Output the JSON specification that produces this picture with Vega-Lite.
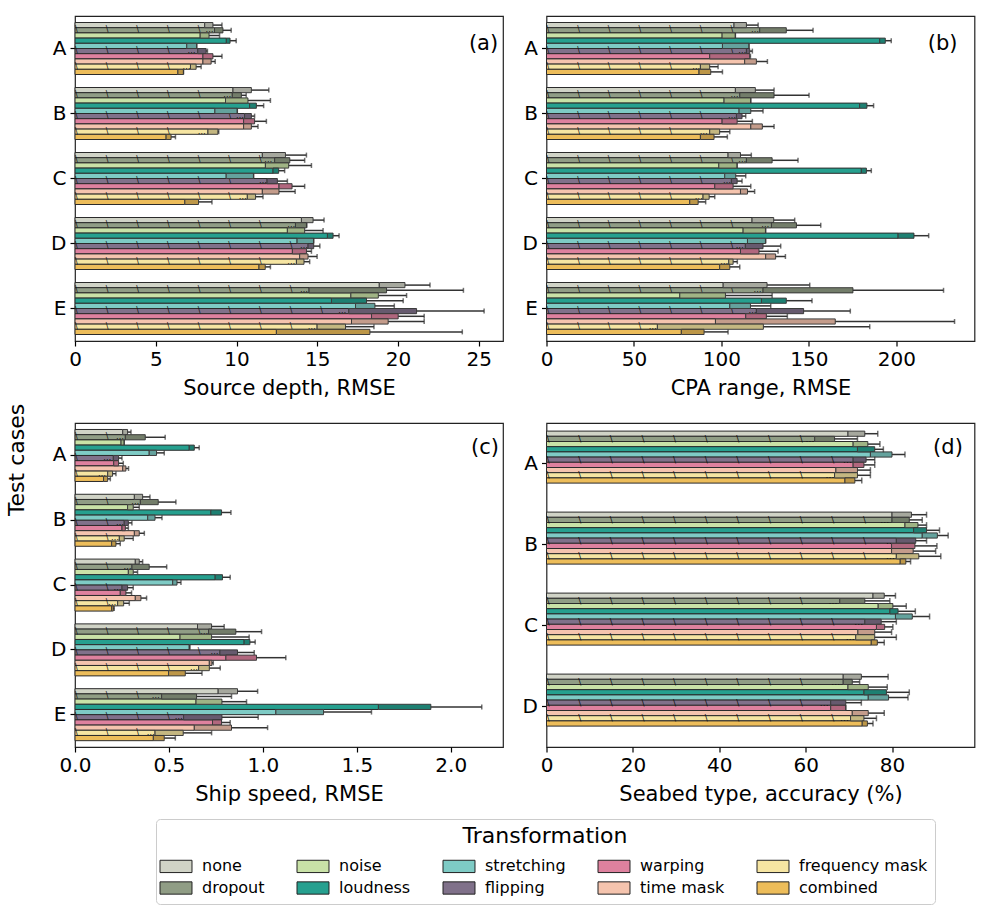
{
"$schema": "https://vega.github.io/schema/vega-lite/v6.json",
"background": "white",
"padding": {"left": 5, "top": 15, "right": 5, "bottom": 5},
"title": {"text": "Test cases", "orient": "left", "anchor": "middle", "fontSize": 22, "fontWeight": "normal", "font": "DejaVu Sans", "offset": 21},
"data": {"name": "d"},
"datasets": {"d": [
{"p":"a","c":"A","t":"none","v":8.03,"w":8.54,"h":9.1},
{"p":"a","c":"A","t":"dropout","v":8.64,"w":9.16,"h":9.67},
{"p":"a","c":"A","t":"noise","v":7.75,"w":8.3,"h":8.95},
{"p":"a","c":"A","t":"loudness","v":9.37,"w":9.6,"h":9.98},
{"p":"a","c":"A","t":"stretching","v":6.92,"w":7.54,"h":7.54},
{"p":"a","c":"A","t":"flipping","v":7.6,"w":8.12,"h":8.2},
{"p":"a","c":"A","t":"warping","v":7.92,"w":8.54,"h":9.1},
{"p":"a","c":"A","t":"time mask","v":7.92,"w":8.43,"h":8.68},
{"p":"a","c":"A","t":"frequency mask","v":7.15,"w":7.5,"h":7.81},
{"p":"a","c":"A","t":"combined","v":6.37,"w":6.72,"h":6.72},
{"p":"a","c":"B","t":"none","v":9.78,"w":10.92,"h":12.0},
{"p":"a","c":"B","t":"dropout","v":9.74,"w":10.3,"h":10.6},
{"p":"a","c":"B","t":"noise","v":9.32,"w":10.71,"h":12.1},
{"p":"a","c":"B","t":"loudness","v":10.81,"w":11.23,"h":11.68},
{"p":"a","c":"B","t":"stretching","v":8.66,"w":10.05,"h":10.05},
{"p":"a","c":"B","t":"flipping","v":10.5,"w":10.92,"h":11.12},
{"p":"a","c":"B","t":"warping","v":10.44,"w":11.12,"h":11.85},
{"p":"a","c":"B","t":"time mask","v":10.44,"w":10.92,"h":11.33},
{"p":"a","c":"B","t":"frequency mask","v":8.23,"w":8.85,"h":8.9},
{"p":"a","c":"B","t":"combined","v":5.64,"w":5.95,"h":6.22},
{"p":"a","c":"C","t":"none","v":11.6,"w":13.03,"h":14.33},
{"p":"a","c":"C","t":"dropout","v":12.36,"w":13.3,"h":14.22},
{"p":"a","c":"C","t":"noise","v":11.79,"w":13.23,"h":14.64},
{"p":"a","c":"C","t":"loudness","v":12.26,"w":12.61,"h":12.98},
{"p":"a","c":"C","t":"stretching","v":9.36,"w":11.06,"h":11.06},
{"p":"a","c":"C","t":"flipping","v":11.89,"w":12.53,"h":13.15},
{"p":"a","c":"C","t":"warping","v":12.63,"w":13.44,"h":14.22},
{"p":"a","c":"C","t":"time mask","v":11.6,"w":12.63,"h":13.63},
{"p":"a","c":"C","t":"frequency mask","v":10.67,"w":11.18,"h":11.64},
{"p":"a","c":"C","t":"combined","v":6.8,"w":7.65,"h":8.48},
{"p":"a","c":"D","t":"none","v":14.02,"w":14.74,"h":15.42},
{"p":"a","c":"D","t":"dropout","v":13.65,"w":14.33,"h":14.36},
{"p":"a","c":"D","t":"noise","v":13.15,"w":14.22,"h":15.36},
{"p":"a","c":"D","t":"loudness","v":15.63,"w":15.98,"h":16.35},
{"p":"a","c":"D","t":"stretching","v":13.75,"w":14.78,"h":14.78},
{"p":"a","c":"D","t":"flipping","v":14.43,"w":14.78,"h":15.16},
{"p":"a","c":"D","t":"warping","v":13.46,"w":14.33,"h":14.64},
{"p":"a","c":"D","t":"time mask","v":13.91,"w":14.43,"h":14.99},
{"p":"a","c":"D","t":"frequency mask","v":13.71,"w":14.18,"h":14.53},
{"p":"a","c":"D","t":"combined","v":11.39,"w":11.78,"h":12.1},
{"p":"a","c":"E","t":"none","v":18.84,"w":20.43,"h":21.98},
{"p":"a","c":"E","t":"dropout","v":14.49,"w":19.29,"h":24.05},
{"p":"a","c":"E","t":"noise","v":17.08,"w":18.78,"h":20.53},
{"p":"a","c":"E","t":"loudness","v":15.88,"w":18.05,"h":20.32},
{"p":"a","c":"E","t":"stretching","v":17.37,"w":18.57,"h":19.77},
{"p":"a","c":"E","t":"flipping","v":16.95,"w":21.15,"h":25.33},
{"p":"a","c":"E","t":"warping","v":18.36,"w":20.01,"h":21.62},
{"p":"a","c":"E","t":"time mask","v":17.12,"w":19.39,"h":21.62},
{"p":"a","c":"E","t":"frequency mask","v":14.99,"w":16.75,"h":18.51},
{"p":"a","c":"E","t":"combined","v":12.47,"w":18.26,"h":23.98},
{"p":"b","c":"A","t":"none","v":107.2,"w":114.3,"h":121},
{"p":"b","c":"A","t":"dropout","v":121.9,"w":137.1,"h":152.4},
{"p":"b","c":"A","t":"noise","v":100.4,"w":108,"h":108},
{"p":"b","c":"A","t":"loudness","v":190.5,"w":193.7,"h":197.1},
{"p":"b","c":"A","t":"stretching","v":100.6,"w":115.8,"h":115.8},
{"p":"b","c":"A","t":"flipping","v":114.3,"w":116.2,"h":117.7},
{"p":"b","c":"A","t":"warping","v":93.3,"w":116.2,"h":116.6},
{"p":"b","c":"A","t":"time mask","v":113.3,"w":120,"h":126.3},
{"p":"b","c":"A","t":"frequency mask","v":88,"w":93.3,"h":98.1},
{"p":"b","c":"A","t":"combined","v":87.2,"w":93.9,"h":100.6},
{"p":"b","c":"B","t":"none","v":108,"w":119.4,"h":130.1},
{"p":"b","c":"B","t":"dropout","v":110.5,"w":130.1,"h":150.1},
{"p":"b","c":"B","t":"noise","v":101.5,"w":116.8,"h":116.8},
{"p":"b","c":"B","t":"loudness","v":179,"w":183.2,"h":187},
{"p":"b","c":"B","t":"stretching","v":110.1,"w":116.8,"h":123.8},
{"p":"b","c":"B","t":"flipping","v":108.6,"w":111.8,"h":113.9},
{"p":"b","c":"B","t":"warping","v":100.4,"w":109,"h":117.7},
{"p":"b","c":"B","t":"time mask","v":116.8,"w":123.4,"h":130.1},
{"p":"b","c":"B","t":"frequency mask","v":93.3,"w":99,"h":104.8},
{"p":"b","c":"B","t":"combined","v":88,"w":95.8,"h":103.4},
{"p":"b","c":"C","t":"none","v":103.8,"w":110.9,"h":117.1},
{"p":"b","c":"C","t":"dropout","v":114.3,"w":129,"h":143.8},
{"p":"b","c":"C","t":"noise","v":98.5,"w":109,"h":109},
{"p":"b","c":"C","t":"loudness","v":180,"w":182.9,"h":185.7},
{"p":"b","c":"C","t":"stretching","v":101.9,"w":108.2,"h":113.9},
{"p":"b","c":"C","t":"flipping","v":105.7,"w":109,"h":111.8},
{"p":"b","c":"C","t":"warping","v":96.2,"w":106.7,"h":116.8},
{"p":"b","c":"C","t":"time mask","v":110.9,"w":114.9,"h":119},
{"p":"b","c":"C","t":"frequency mask","v":89.5,"w":93,"h":96.2},
{"p":"b","c":"C","t":"combined","v":81.9,"w":86.7,"h":91},
{"p":"b","c":"D","t":"none","v":117.5,"w":129.9,"h":141.9},
{"p":"b","c":"D","t":"dropout","v":128.6,"w":142.9,"h":156.8},
{"p":"b","c":"D","t":"noise","v":112.4,"w":125.3,"h":125.3},
{"p":"b","c":"D","t":"loudness","v":201,"w":210.1,"h":218.5},
{"p":"b","c":"D","t":"stretching","v":114.9,"w":125.3,"h":125.3},
{"p":"b","c":"D","t":"flipping","v":113.7,"w":123.8,"h":133.9},
{"p":"b","c":"D","t":"warping","v":110.9,"w":121.5,"h":132.4},
{"p":"b","c":"D","t":"time mask","v":125.3,"w":131,"h":136.6},
{"p":"b","c":"D","t":"frequency mask","v":104.2,"w":106.7,"h":109.1},
{"p":"b","c":"D","t":"combined","v":99,"w":104.8,"h":110.5},
{"p":"b","c":"E","t":"none","v":101,"w":126.1,"h":150.5},
{"p":"b","c":"E","t":"dropout","v":123.8,"w":175.2,"h":227},
{"p":"b","c":"E","t":"noise","v":76.2,"w":102.3,"h":129},
{"p":"b","c":"E","t":"loudness","v":122.9,"w":137.1,"h":151.8},
{"p":"b","c":"E","t":"stretching","v":104.8,"w":116.6,"h":128.2},
{"p":"b","c":"E","t":"flipping","v":120,"w":147,"h":173.7},
{"p":"b","c":"E","t":"warping","v":113.9,"w":125.7,"h":137.7},
{"p":"b","c":"E","t":"time mask","v":96.6,"w":165.1,"h":233.3},
{"p":"b","c":"E","t":"frequency mask","v":63.4,"w":124,"h":184.8},
{"p":"b","c":"E","t":"combined","v":77.1,"w":90.1,"h":103.8},
{"p":"c","c":"A","t":"none","v":0.254,"w":0.28,"h":0.298},
{"p":"c","c":"A","t":"dropout","v":0.268,"w":0.374,"h":0.48},
{"p":"c","c":"A","t":"noise","v":0.245,"w":0.262,"h":0.262},
{"p":"c","c":"A","t":"loudness","v":0.608,"w":0.635,"h":0.661},
{"p":"c","c":"A","t":"stretching","v":0.395,"w":0.434,"h":0.475},
{"p":"c","c":"A","t":"flipping","v":0.204,"w":0.232,"h":0.25},
{"p":"c","c":"A","t":"warping","v":0.206,"w":0.232,"h":0.257},
{"p":"c","c":"A","t":"time mask","v":0.254,"w":0.271,"h":0.285},
{"p":"c","c":"A","t":"frequency mask","v":0.174,"w":0.2,"h":0.218},
{"p":"c","c":"A","t":"combined","v":0.152,"w":0.174,"h":0.188},
{"p":"c","c":"B","t":"none","v":0.316,"w":0.36,"h":0.399},
{"p":"c","c":"B","t":"dropout","v":0.348,"w":0.443,"h":0.537},
{"p":"c","c":"B","t":"noise","v":0.28,"w":0.31,"h":0.342},
{"p":"c","c":"B","t":"loudness","v":0.723,"w":0.78,"h":0.83},
{"p":"c","c":"B","t":"stretching","v":0.387,"w":0.426,"h":0.463},
{"p":"c","c":"B","t":"flipping","v":0.262,"w":0.284,"h":0.303},
{"p":"c","c":"B","t":"warping","v":0.25,"w":0.268,"h":0.284},
{"p":"c","c":"B","t":"time mask","v":0.316,"w":0.342,"h":0.369},
{"p":"c","c":"B","t":"frequency mask","v":0.236,"w":0.262,"h":0.31},
{"p":"c","c":"B","t":"combined","v":0.195,"w":0.218,"h":0.241},
{"p":"c","c":"C","t":"none","v":0.321,"w":0.342,"h":0.36},
{"p":"c","c":"C","t":"dropout","v":0.303,"w":0.395,"h":0.488},
{"p":"c","c":"C","t":"noise","v":0.284,"w":0.31,"h":0.333},
{"p":"c","c":"C","t":"loudness","v":0.746,"w":0.785,"h":0.826},
{"p":"c","c":"C","t":"stretching","v":0.52,"w":0.543,"h":0.564},
{"p":"c","c":"C","t":"flipping","v":0.25,"w":0.28,"h":0.31},
{"p":"c","c":"C","t":"warping","v":0.241,"w":0.271,"h":0.301},
{"p":"c","c":"C","t":"time mask","v":0.321,"w":0.351,"h":0.381},
{"p":"c","c":"C","t":"frequency mask","v":0.227,"w":0.259,"h":0.289},
{"p":"c","c":"C","t":"combined","v":0.195,"w":0.204,"h":0.209},
{"p":"c","c":"D","t":"none","v":0.652,"w":0.727,"h":0.794},
{"p":"c","c":"D","t":"dropout","v":0.711,"w":0.856,"h":0.993},
{"p":"c","c":"D","t":"noise","v":0.559,"w":0.727,"h":0.927},
{"p":"c","c":"D","t":"loudness","v":0.9,"w":0.931,"h":0.959},
{"p":"c","c":"D","t":"stretching","v":0.608,"w":0.61,"h":0.612},
{"p":"c","c":"D","t":"flipping","v":0.771,"w":0.865,"h":0.954},
{"p":"c","c":"D","t":"warping","v":0.803,"w":0.966,"h":1.122},
{"p":"c","c":"D","t":"time mask","v":0.715,"w":0.729,"h":0.736},
{"p":"c","c":"D","t":"frequency mask","v":0.658,"w":0.715,"h":0.773},
{"p":"c","c":"D","t":"combined","v":0.498,"w":0.587,"h":0.676},
{"p":"c","c":"E","t":"none","v":0.762,"w":0.865,"h":0.972},
{"p":"c","c":"E","t":"dropout","v":0.461,"w":0.647,"h":0.833},
{"p":"c","c":"E","t":"noise","v":0.644,"w":0.782,"h":0.913},
{"p":"c","c":"E","t":"loudness","v":1.615,"w":1.894,"h":2.165},
{"p":"c","c":"E","t":"stretching","v":1.069,"w":1.323,"h":1.578},
{"p":"c","c":"E","t":"flipping","v":0.578,"w":0.782,"h":0.975},
{"p":"c","c":"E","t":"warping","v":0.732,"w":0.78,"h":0.826},
{"p":"c","c":"E","t":"time mask","v":0.635,"w":0.833,"h":1.025},
{"p":"c","c":"E","t":"frequency mask","v":0.426,"w":0.576,"h":0.727},
{"p":"c","c":"E","t":"combined","v":0.417,"w":0.475,"h":0.534},
{"p":"d","c":"A","t":"none","v":69.8,"w":73.7,"h":76.7},
{"p":"d","c":"A","t":"dropout","v":62.1,"w":66.7,"h":72},
{"p":"d","c":"A","t":"noise","v":71,"w":74.4,"h":77.2},
{"p":"d","c":"A","t":"loudness","v":72,"w":76,"h":78},
{"p":"d","c":"A","t":"stretching","v":75,"w":80,"h":83},
{"p":"d","c":"A","t":"flipping","v":71,"w":74,"h":76},
{"p":"d","c":"A","t":"warping","v":71,"w":73.5,"h":76},
{"p":"d","c":"A","t":"time mask","v":67,"w":72,"h":75},
{"p":"d","c":"A","t":"frequency mask","v":66.7,"w":72,"h":75},
{"p":"d","c":"A","t":"combined","v":69.1,"w":71.4,"h":73},
{"p":"d","c":"B","t":"none","v":80,"w":84.5,"h":88},
{"p":"d","c":"B","t":"dropout","v":80,"w":84,"h":87},
{"p":"d","c":"B","t":"noise","v":83,"w":86,"h":88},
{"p":"d","c":"B","t":"loudness","v":85,"w":88,"h":91},
{"p":"d","c":"B","t":"stretching","v":87,"w":90.5,"h":93},
{"p":"d","c":"B","t":"flipping","v":81,"w":85.5,"h":88},
{"p":"d","c":"B","t":"warping","v":79.9,"w":85.3,"h":90.4},
{"p":"d","c":"B","t":"time mask","v":79.9,"w":84.9,"h":90.1},
{"p":"d","c":"B","t":"frequency mask","v":81,"w":86.2,"h":91.3},
{"p":"d","c":"B","t":"combined","v":81.9,"w":83.2,"h":84.3},
{"p":"d","c":"C","t":"none","v":75.6,"w":78.2,"h":80.8},
{"p":"d","c":"C","t":"dropout","v":67.9,"w":73.7,"h":79.5},
{"p":"d","c":"C","t":"noise","v":76.8,"w":80.2,"h":83.3},
{"p":"d","c":"C","t":"loudness","v":79.5,"w":81.4,"h":85.4},
{"p":"d","c":"C","t":"stretching","v":80.8,"w":84.7,"h":88.7},
{"p":"d","c":"C","t":"flipping","v":73.7,"w":77.5,"h":81},
{"p":"d","c":"C","t":"warping","v":76.4,"w":78.3,"h":80.2},
{"p":"d","c":"C","t":"time mask","v":72.1,"w":76,"h":79.9},
{"p":"d","c":"C","t":"frequency mask","v":71.6,"w":76,"h":81},
{"p":"d","c":"C","t":"combined","v":75.2,"w":76.6,"h":78.2},
{"p":"d","c":"D","t":"none","v":68.7,"w":72.9,"h":79.1},
{"p":"d","c":"D","t":"dropout","v":68.7,"w":70.8,"h":72.5},
{"p":"d","c":"D","t":"noise","v":69.8,"w":74.5,"h":78.9},
{"p":"d","c":"D","t":"loudness","v":73.5,"w":78.7,"h":84},
{"p":"d","c":"D","t":"stretching","v":74.5,"w":79.2,"h":83.7},
{"p":"d","c":"D","t":"flipping","v":65.8,"w":69.3,"h":72.9},
{"p":"d","c":"D","t":"warping","v":65.8,"w":69.3,"h":69.3},
{"p":"d","c":"D","t":"time mask","v":70.8,"w":74.5,"h":78.2},
{"p":"d","c":"D","t":"frequency mask","v":70.4,"w":73.5,"h":76.4},
{"p":"d","c":"D","t":"combined","v":73.1,"w":74.3,"h":75.6}
]},
"vconcat": [
{"spacing": 16.5, "hconcat": [
{"width": 428, "height": 325, "layer": [
 {"transform": [{"filter": "datum.p==='a'"}],
  "encoding": {
   "y": {"field": "c", "type": "nominal", "scale": {"paddingInner": 0.2, "paddingOuter": 0.1}, "axis": {"title": null}},
   "yOffset": {"field": "t", "type": "nominal", "sort": ["none","dropout","noise","loudness","stretching","flipping","warping","time mask","frequency mask","combined"], "scale": {"paddingInner": 0, "paddingOuter": 0}},
   "color": {"field": "t", "type": "nominal", "title": "Transformation", "scale": {"domain": ["none","noise","stretching","warping","frequency mask","dropout","loudness","flipping","time mask","combined"], "range": ["#d0d3c6","#c9e2a7","#7ecbc5","#de819e","#f6e5a2","#909d85","#26a08f","#80718a","#f5c4ae","#edbd5a"]}}
  },
  "layer": [
   {"mark": {"type": "bar", "stroke": "#2b2b2b", "strokeWidth": 1}, "encoding": {"x": {"field": "v", "type": "quantitative", "scale": {"domain": [0, 26.5], "nice": false}, "axis": {"values": [0,5,10,15,20,25], "title": "Source depth, RMSE"}}}},
   {"transform": [{"filter": "datum.t==='dropout'||datum.t==='flipping'||datum.t==='frequency mask'"}], "mark": {"type": "text", "align": "left", "baseline": "middle", "fontSize": 8, "fill": "#111", "ellipsis": "", "limit": {"expr": "datum.v*16.15"}, "text": "\u00a0\u00a0\u00a0\u00a0\\\u00a0\u00a0\u00a0\u00a0\u00a0\u00a0\u00a0\u00a0\u00a0\u00a0\u00a0\\\u00a0\u00a0\u00a0\u00a0\u00a0\u00a0\u00a0\u00a0\u00a0\u00a0\u00a0\\\u00a0\u00a0\u00a0\u00a0\u00a0\u00a0\u00a0\u00a0\u00a0\u00a0\u00a0\\\u00a0\u00a0\u00a0\u00a0\u00a0\u00a0\u00a0\u00a0\u00a0\u00a0\u00a0\\\u00a0\u00a0\u00a0\u00a0\u00a0\u00a0\u00a0\u00a0\u00a0\u00a0\u00a0\\\u00a0\u00a0\u00a0\u00a0\u00a0\u00a0\u00a0\u00a0\u00a0\u00a0\u00a0\\\u00a0\u00a0\u00a0\u00a0\u00a0\u00a0\u00a0\u00a0\u00a0\u00a0\u00a0\\\u00a0\u00a0\u00a0\u00a0\u00a0\u00a0\u00a0\u00a0\u00a0\u00a0\u00a0\\\u00a0\u00a0\u00a0\u00a0\u00a0\u00a0\u00a0\u00a0\u00a0\u00a0\u00a0\\\u00a0\u00a0\u00a0\u00a0\u00a0\u00a0\u00a0\u00a0\u00a0\u00a0\u00a0\\\u00a0\u00a0\u00a0\u00a0\u00a0\u00a0\u00a0\u00a0\u00a0\u00a0\u00a0\\\u00a0\u00a0\u00a0\u00a0\u00a0\u00a0\u00a0\u00a0\u00a0\u00a0\u00a0\\\u00a0\u00a0\u00a0\u00a0\u00a0\u00a0\u00a0\u00a0\u00a0\u00a0\u00a0\\\u00a0\u00a0\u00a0\u00a0\u00a0\u00a0\u00a0\u00a0\u00a0\u00a0\u00a0\\"}, "encoding": {"x": {"datum": 0, "type": "quantitative"}, "color": {"value": "#111"}}},
   {"mark": {"type": "bar", "stroke": "#444", "strokeWidth": 1}, "encoding": {"x": {"field": "v", "type": "quantitative"}, "x2": {"field": "w"}}},
   {"mark": {"type": "bar", "fill": "#000", "fillOpacity": 0.2, "strokeWidth": 0}, "encoding": {"x": {"field": "v", "type": "quantitative"}, "x2": {"field": "w"}, "color": {"value": "#000"}}},
   {"mark": {"type": "rule", "strokeWidth": 1.5}, "encoding": {"x": {"field": "w", "type": "quantitative"}, "x2": {"field": "h"}, "color": {"value": "#333"}}},
   {"mark": {"type": "tick", "orient": "vertical", "thickness": 1.5, "size": 5}, "encoding": {"x": {"field": "h", "type": "quantitative"}, "color": {"value": "#333"}}}
  ]},
 {"data": {"values": [{"lab": "(a)"}]}, "mark": {"type": "text", "align": "right", "baseline": "middle", "fontSize": 21, "dy": -5}, "encoding": {"text": {"field": "lab"}, "x": {"datum": 26.2, "type": "quantitative"}, "y": {"datum": "A", "type": "nominal"}}}
]},
{"width": 428, "height": 325, "layer": [
 {"transform": [{"filter": "datum.p==='b'"}],
  "encoding": {
   "y": {"field": "c", "type": "nominal", "scale": {"paddingInner": 0.2, "paddingOuter": 0.1}, "axis": {"title": null}},
   "yOffset": {"field": "t", "type": "nominal", "sort": ["none","dropout","noise","loudness","stretching","flipping","warping","time mask","frequency mask","combined"], "scale": {"paddingInner": 0, "paddingOuter": 0}},
   "color": {"field": "t", "type": "nominal", "title": "Transformation", "scale": {"domain": ["none","noise","stretching","warping","frequency mask","dropout","loudness","flipping","time mask","combined"], "range": ["#d0d3c6","#c9e2a7","#7ecbc5","#de819e","#f6e5a2","#909d85","#26a08f","#80718a","#f5c4ae","#edbd5a"]}}
  },
  "layer": [
   {"mark": {"type": "bar", "stroke": "#2b2b2b", "strokeWidth": 1}, "encoding": {"x": {"field": "v", "type": "quantitative", "scale": {"domain": [0, 244.7], "nice": false}, "axis": {"values": [0,50,100,150,200], "title": "CPA range, RMSE"}}}},
   {"transform": [{"filter": "datum.t==='dropout'||datum.t==='flipping'||datum.t==='frequency mask'"}], "mark": {"type": "text", "align": "left", "baseline": "middle", "fontSize": 8, "fill": "#111", "ellipsis": "", "limit": {"expr": "datum.v*1.75"}, "text": "\u00a0\u00a0\u00a0\u00a0\\\u00a0\u00a0\u00a0\u00a0\u00a0\u00a0\u00a0\u00a0\u00a0\u00a0\u00a0\\\u00a0\u00a0\u00a0\u00a0\u00a0\u00a0\u00a0\u00a0\u00a0\u00a0\u00a0\\\u00a0\u00a0\u00a0\u00a0\u00a0\u00a0\u00a0\u00a0\u00a0\u00a0\u00a0\\\u00a0\u00a0\u00a0\u00a0\u00a0\u00a0\u00a0\u00a0\u00a0\u00a0\u00a0\\\u00a0\u00a0\u00a0\u00a0\u00a0\u00a0\u00a0\u00a0\u00a0\u00a0\u00a0\\\u00a0\u00a0\u00a0\u00a0\u00a0\u00a0\u00a0\u00a0\u00a0\u00a0\u00a0\\\u00a0\u00a0\u00a0\u00a0\u00a0\u00a0\u00a0\u00a0\u00a0\u00a0\u00a0\\\u00a0\u00a0\u00a0\u00a0\u00a0\u00a0\u00a0\u00a0\u00a0\u00a0\u00a0\\\u00a0\u00a0\u00a0\u00a0\u00a0\u00a0\u00a0\u00a0\u00a0\u00a0\u00a0\\\u00a0\u00a0\u00a0\u00a0\u00a0\u00a0\u00a0\u00a0\u00a0\u00a0\u00a0\\\u00a0\u00a0\u00a0\u00a0\u00a0\u00a0\u00a0\u00a0\u00a0\u00a0\u00a0\\\u00a0\u00a0\u00a0\u00a0\u00a0\u00a0\u00a0\u00a0\u00a0\u00a0\u00a0\\\u00a0\u00a0\u00a0\u00a0\u00a0\u00a0\u00a0\u00a0\u00a0\u00a0\u00a0\\\u00a0\u00a0\u00a0\u00a0\u00a0\u00a0\u00a0\u00a0\u00a0\u00a0\u00a0\\"}, "encoding": {"x": {"datum": 0, "type": "quantitative"}, "color": {"value": "#111"}}},
   {"mark": {"type": "bar", "stroke": "#444", "strokeWidth": 1}, "encoding": {"x": {"field": "v", "type": "quantitative"}, "x2": {"field": "w"}}},
   {"mark": {"type": "bar", "fill": "#000", "fillOpacity": 0.2, "strokeWidth": 0}, "encoding": {"x": {"field": "v", "type": "quantitative"}, "x2": {"field": "w"}, "color": {"value": "#000"}}},
   {"mark": {"type": "rule", "strokeWidth": 1.5}, "encoding": {"x": {"field": "w", "type": "quantitative"}, "x2": {"field": "h"}, "color": {"value": "#333"}}},
   {"mark": {"type": "tick", "orient": "vertical", "thickness": 1.5, "size": 5}, "encoding": {"x": {"field": "h", "type": "quantitative"}, "color": {"value": "#333"}}}
  ]},
 {"data": {"values": [{"lab": "(b)"}]}, "mark": {"type": "text", "align": "right", "baseline": "middle", "fontSize": 21, "dy": -5}, "encoding": {"text": {"field": "lab"}, "x": {"datum": 235, "type": "quantitative"}, "y": {"datum": "A", "type": "nominal"}}}
]}
]},
{"spacing": 16.5, "hconcat": [
{"width": 428, "height": 324, "layer": [
 {"transform": [{"filter": "datum.p==='c'"}],
  "encoding": {
   "y": {"field": "c", "type": "nominal", "scale": {"paddingInner": 0.2, "paddingOuter": 0.1}, "axis": {"title": null}},
   "yOffset": {"field": "t", "type": "nominal", "sort": ["none","dropout","noise","loudness","stretching","flipping","warping","time mask","frequency mask","combined"], "scale": {"paddingInner": 0, "paddingOuter": 0}},
   "color": {"field": "t", "type": "nominal", "title": "Transformation", "scale": {"domain": ["none","noise","stretching","warping","frequency mask","dropout","loudness","flipping","time mask","combined"], "range": ["#d0d3c6","#c9e2a7","#7ecbc5","#de819e","#f6e5a2","#909d85","#26a08f","#80718a","#f5c4ae","#edbd5a"]}}
  },
  "layer": [
   {"mark": {"type": "bar", "stroke": "#2b2b2b", "strokeWidth": 1}, "encoding": {"x": {"field": "v", "type": "quantitative", "scale": {"domain": [0, 2.278], "nice": false}, "axis": {"values": [0,0.5,1,1.5,2], "format": ".1f", "title": "Ship speed, RMSE"}}}},
   {"transform": [{"filter": "datum.t==='dropout'||datum.t==='flipping'||datum.t==='frequency mask'"}], "mark": {"type": "text", "align": "left", "baseline": "middle", "fontSize": 8, "fill": "#111", "ellipsis": "", "limit": {"expr": "datum.v*188"}, "text": "\u00a0\u00a0\u00a0\u00a0\\\u00a0\u00a0\u00a0\u00a0\u00a0\u00a0\u00a0\u00a0\u00a0\u00a0\u00a0\\\u00a0\u00a0\u00a0\u00a0\u00a0\u00a0\u00a0\u00a0\u00a0\u00a0\u00a0\\\u00a0\u00a0\u00a0\u00a0\u00a0\u00a0\u00a0\u00a0\u00a0\u00a0\u00a0\\\u00a0\u00a0\u00a0\u00a0\u00a0\u00a0\u00a0\u00a0\u00a0\u00a0\u00a0\\\u00a0\u00a0\u00a0\u00a0\u00a0\u00a0\u00a0\u00a0\u00a0\u00a0\u00a0\\\u00a0\u00a0\u00a0\u00a0\u00a0\u00a0\u00a0\u00a0\u00a0\u00a0\u00a0\\\u00a0\u00a0\u00a0\u00a0\u00a0\u00a0\u00a0\u00a0\u00a0\u00a0\u00a0\\\u00a0\u00a0\u00a0\u00a0\u00a0\u00a0\u00a0\u00a0\u00a0\u00a0\u00a0\\\u00a0\u00a0\u00a0\u00a0\u00a0\u00a0\u00a0\u00a0\u00a0\u00a0\u00a0\\\u00a0\u00a0\u00a0\u00a0\u00a0\u00a0\u00a0\u00a0\u00a0\u00a0\u00a0\\\u00a0\u00a0\u00a0\u00a0\u00a0\u00a0\u00a0\u00a0\u00a0\u00a0\u00a0\\\u00a0\u00a0\u00a0\u00a0\u00a0\u00a0\u00a0\u00a0\u00a0\u00a0\u00a0\\\u00a0\u00a0\u00a0\u00a0\u00a0\u00a0\u00a0\u00a0\u00a0\u00a0\u00a0\\\u00a0\u00a0\u00a0\u00a0\u00a0\u00a0\u00a0\u00a0\u00a0\u00a0\u00a0\\"}, "encoding": {"x": {"datum": 0, "type": "quantitative"}, "color": {"value": "#111"}}},
   {"mark": {"type": "bar", "stroke": "#444", "strokeWidth": 1}, "encoding": {"x": {"field": "v", "type": "quantitative"}, "x2": {"field": "w"}}},
   {"mark": {"type": "bar", "fill": "#000", "fillOpacity": 0.2, "strokeWidth": 0}, "encoding": {"x": {"field": "v", "type": "quantitative"}, "x2": {"field": "w"}, "color": {"value": "#000"}}},
   {"mark": {"type": "rule", "strokeWidth": 1.5}, "encoding": {"x": {"field": "w", "type": "quantitative"}, "x2": {"field": "h"}, "color": {"value": "#333"}}},
   {"mark": {"type": "tick", "orient": "vertical", "thickness": 1.5, "size": 5}, "encoding": {"x": {"field": "h", "type": "quantitative"}, "color": {"value": "#333"}}}
  ]},
 {"data": {"values": [{"lab": "(c)"}]}, "mark": {"type": "text", "align": "right", "baseline": "middle", "fontSize": 21, "dy": -7}, "encoding": {"text": {"field": "lab"}, "x": {"datum": 2.257, "type": "quantitative"}, "y": {"datum": "A", "type": "nominal"}}}
]},
{"width": 428, "height": 324, "layer": [
 {"transform": [{"filter": "datum.p==='d'"}],
  "encoding": {
   "y": {"field": "c", "type": "nominal", "scale": {"paddingInner": 0.2, "paddingOuter": 0.1}, "axis": {"title": null}},
   "yOffset": {"field": "t", "type": "nominal", "sort": ["none","dropout","noise","loudness","stretching","flipping","warping","time mask","frequency mask","combined"], "scale": {"paddingInner": 0, "paddingOuter": 0}},
   "color": {"field": "t", "type": "nominal", "title": "Transformation", "scale": {"domain": ["none","noise","stretching","warping","frequency mask","dropout","loudness","flipping","time mask","combined"], "range": ["#d0d3c6","#c9e2a7","#7ecbc5","#de819e","#f6e5a2","#909d85","#26a08f","#80718a","#f5c4ae","#edbd5a"]}}
  },
  "layer": [
   {"mark": {"type": "bar", "stroke": "#2b2b2b", "strokeWidth": 1}, "encoding": {"x": {"field": "v", "type": "quantitative", "scale": {"domain": [0, 99.1], "nice": false}, "axis": {"values": [0,20,40,60,80], "title": "Seabed type, accuracy (%)"}}}},
   {"transform": [{"filter": "datum.t==='dropout'||datum.t==='flipping'||datum.t==='frequency mask'"}], "mark": {"type": "text", "align": "left", "baseline": "middle", "fontSize": 9, "fill": "#111", "ellipsis": "", "limit": {"expr": "datum.v*4.32"}, "text": "\u00a0\u00a0\u00a0\u00a0\\\u00a0\u00a0\u00a0\u00a0\u00a0\u00a0\u00a0\u00a0\u00a0\u00a0\\\u00a0\u00a0\u00a0\u00a0\u00a0\u00a0\u00a0\u00a0\u00a0\u00a0\\\u00a0\u00a0\u00a0\u00a0\u00a0\u00a0\u00a0\u00a0\u00a0\u00a0\\\u00a0\u00a0\u00a0\u00a0\u00a0\u00a0\u00a0\u00a0\u00a0\u00a0\\\u00a0\u00a0\u00a0\u00a0\u00a0\u00a0\u00a0\u00a0\u00a0\u00a0\\\u00a0\u00a0\u00a0\u00a0\u00a0\u00a0\u00a0\u00a0\u00a0\u00a0\\\u00a0\u00a0\u00a0\u00a0\u00a0\u00a0\u00a0\u00a0\u00a0\u00a0\\\u00a0\u00a0\u00a0\u00a0\u00a0\u00a0\u00a0\u00a0\u00a0\u00a0\\\u00a0\u00a0\u00a0\u00a0\u00a0\u00a0\u00a0\u00a0\u00a0\u00a0\\\u00a0\u00a0\u00a0\u00a0\u00a0\u00a0\u00a0\u00a0\u00a0\u00a0\\\u00a0\u00a0\u00a0\u00a0\u00a0\u00a0\u00a0\u00a0\u00a0\u00a0\\\u00a0\u00a0\u00a0\u00a0\u00a0\u00a0\u00a0\u00a0\u00a0\u00a0\\\u00a0\u00a0\u00a0\u00a0\u00a0\u00a0\u00a0\u00a0\u00a0\u00a0\\\u00a0\u00a0\u00a0\u00a0\u00a0\u00a0\u00a0\u00a0\u00a0\u00a0\\"}, "encoding": {"x": {"datum": 0, "type": "quantitative"}, "color": {"value": "#111"}}},
   {"mark": {"type": "bar", "stroke": "#444", "strokeWidth": 1}, "encoding": {"x": {"field": "v", "type": "quantitative"}, "x2": {"field": "w"}}},
   {"mark": {"type": "bar", "fill": "#000", "fillOpacity": 0.2, "strokeWidth": 0}, "encoding": {"x": {"field": "v", "type": "quantitative"}, "x2": {"field": "w"}, "color": {"value": "#000"}}},
   {"mark": {"type": "rule", "strokeWidth": 1.5}, "encoding": {"x": {"field": "w", "type": "quantitative"}, "x2": {"field": "h"}, "color": {"value": "#333"}}},
   {"mark": {"type": "tick", "orient": "vertical", "thickness": 1.5, "size": 6}, "encoding": {"x": {"field": "h", "type": "quantitative"}, "color": {"value": "#333"}}}
  ]},
 {"data": {"values": [{"lab": "(d)"}]}, "mark": {"type": "text", "align": "right", "baseline": "middle", "fontSize": 21, "dy": -16}, "encoding": {"text": {"field": "lab"}, "x": {"datum": 96.4, "type": "quantitative"}, "y": {"datum": "A", "type": "nominal"}}}
]}
]}
],
"spacing": 23,
"resolve": {"scale": {"color": "shared"}, "legend": {"color": "shared"}},
"config": {
 "font": "DejaVu Sans",
 "view": {"stroke": "#222", "strokeWidth": 1.2},
 "axis": {"labelFontSize": 20, "titleFontSize": 21, "titleFontWeight": "normal", "labelColor": "#000", "titleColor": "#000", "domain": false, "tickColor": "#000", "tickSize": 5, "tickWidth": 1.2, "grid": false, "labelPadding": 3},
 "axisX": {"titlePadding": 8, "labelFlush": false},
 "axisY": {"labelPadding": 4},
 "legend": {"orient": "none", "legendX": 81, "legendY": 803, "direction": "horizontal", "columns": 5, "titleFontSize": 22, "titleFontWeight": "normal", "labelFontSize": 16, "symbolType": "M-1.3,-0.5H1.3V0.5H-1.3Z", "symbolSize": 605, "symbolStrokeColor": "#222", "symbolStrokeWidth": 1, "symbolOpacity": 1, "titleAnchor": "middle", "strokeColor": "#cccccc", "cornerRadius": 4, "padding": 7, "columnPadding": 30, "rowPadding": 0, "labelOffset": 13}
}
}
